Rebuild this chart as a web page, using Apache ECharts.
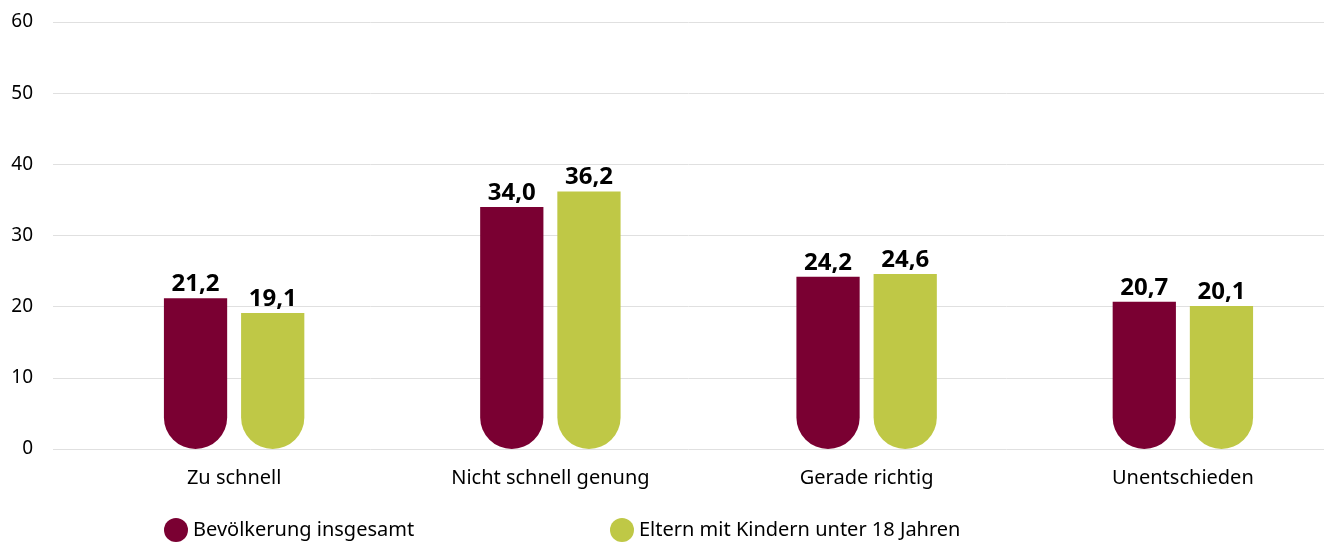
<!DOCTYPE html>
<html>
<head>
<meta charset="utf-8">
<style>html,body{margin:0;padding:0;background:#fff}#c{width:1324px;height:544px}</style>
<script src="https://cdn.jsdelivr.net/npm/echarts@6/dist/echarts.min.js"></script>
</head>
<body>
<div id="c"></div>
<script>
const categories = ['Zu schnell', 'Nicht schnell genung', 'Gerade richtig', 'Unentschieden'];
const seriesNames = ['Bevölkerung insgesamt', 'Eltern mit Kindern unter 18 Jahren'];
const valuesTotal = [21.2, 34.0, 24.2, 20.7];
const valuesParents = [19.1, 36.2, 24.6, 20.1];
const colors = ['#7a0032', '#bfc846'];
const FONT = 'Noto Sans';

const chart = echarts.init(document.getElementById('c'), null, {renderer: 'canvas'});
const fmt = p => p.value.toFixed(1).replace('.', ',');
const barBase = {
  type: 'bar', xAxisIndex: 0, yAxisIndex: 0,
  barWidth: '20%', barGap: '22%',
  label: {show: true, position: 'top', distance: 2, formatter: fmt,
    fontFamily: FONT, fontWeight: 'bold', fontSize: 24, color: '#000'}
};
chart.setOption({
  animation: false,
  textStyle: {fontFamily: FONT},
  grid: [
    {left: 76, right: -17, top: 22, bottom: 95, containLabel: false, outerBoundsMode: 'none'},
    {left: 53, right: 0, top: 22, bottom: 95, containLabel: false, outerBoundsMode: 'none'}
  ],
  legend: [
    {data: [seriesNames[0]], left: 164, top: 518, padding: 0, icon: 'circle', itemWidth: 24, itemHeight: 24, itemGap: 10,
      textStyle: {fontFamily: FONT, fontSize: 20, color: '#000'}},
    {data: [seriesNames[1]], left: 610, top: 518, padding: 0, icon: 'circle', itemWidth: 24, itemHeight: 24, itemGap: 10,
      textStyle: {fontFamily: FONT, fontSize: 20, color: '#000'}}
  ],
  xAxis: [
    {type: 'category', gridIndex: 0, data: categories,
      axisLine: {show: false}, axisTick: {show: false},
      axisLabel: {fontFamily: FONT, fontSize: 20, color: '#000', margin: 19}},
    {type: 'value', gridIndex: 1, min: 0, max: 1, show: false}
  ],
  yAxis: [
    {type: 'value', gridIndex: 0, min: 0, max: 60, interval: 10, show: false, splitLine: {show: false}},
    {type: 'value', gridIndex: 1, min: 0, max: 60, interval: 10,
      axisLine: {show: false}, axisTick: {show: false},
      axisLabel: {fontFamily: FONT, fontSize: 19, color: '#000', margin: 20},
      splitLine: {lineStyle: {color: '#e0e0e0', width: 1}}}
  ],
  series: [
    Object.assign({}, barBase, {name: seriesNames[0], data: valuesTotal,
      itemStyle: {color: colors[0], borderRadius: [0, 0, 32, 32]}}),
    Object.assign({}, barBase, {name: seriesNames[1], data: valuesParents,
      itemStyle: {color: colors[1], borderRadius: [0, 0, 32, 32]}})
  ]
});
</script>
</body>
</html>
